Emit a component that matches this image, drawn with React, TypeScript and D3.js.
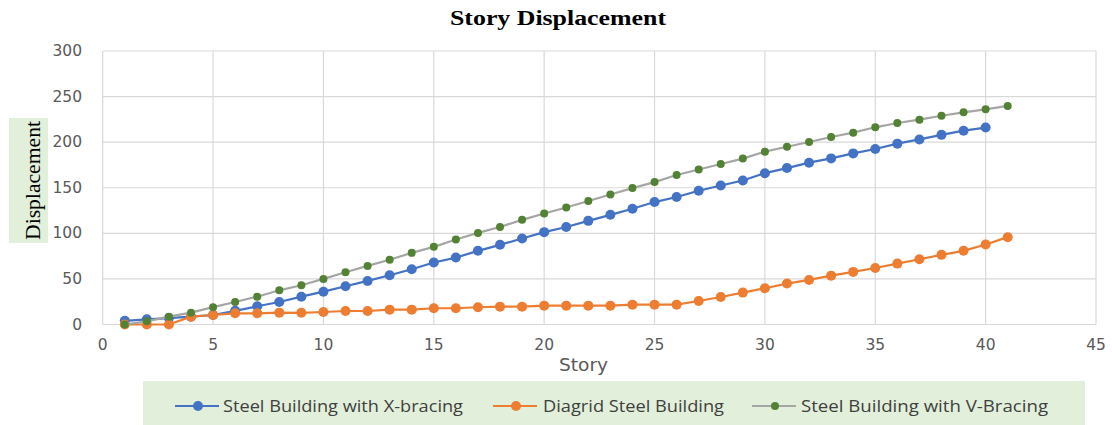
import React from "react";
import * as d3 from "d3";

const storiesX = d3.range(1, 41);
const storiesLong = d3.range(1, 42);

const xBracing = [4, 5.7, 7, 8.6, 10.4, 15, 20, 24.7, 30.5, 36, 42, 47.8, 54, 60.6, 68, 73.4, 80.8, 87.4, 94.3, 101.3,
  107, 113.7, 120.3, 127, 134.3, 139.8, 146.7, 152.5, 158, 166, 171.6, 177.5, 182.2, 187.7, 192.5, 198.4, 203, 208, 212.6, 216];

const diagrid = [0, 0, 0, 8.6, 10.4, 12.3, 12.3, 13, 12.8, 13.7, 14.8, 14.8, 16.3, 16.3, 17.8, 17.8, 18.9, 19.6, 19.6, 20.7,
  20.7, 20.7, 20.7, 21.8, 21.8, 21.8, 25.8, 30.2, 35, 39.8, 44.9, 48.9, 53.6, 57.7, 62, 66.8, 71.6, 76.4, 80.8, 87.7, 95.8];

const vBracing = [0, 3.5, 8.6, 13, 19, 24.7, 30.5, 37.5, 43, 50, 57.3, 64.3, 71, 78.6, 85.2, 93.2, 100.5, 107, 114.8, 121.8,
  128.4, 135.4, 142.6, 149.6, 156.2, 164, 170, 176, 182, 189.6, 195, 200.2, 205.7, 210.4, 216.3, 221, 224.7, 229, 232.7, 236, 239.8];

const xTicks = [0, 5, 10, 15, 20, 25, 30, 35, 40, 45];
const yTicks = [0, 50, 100, 150, 200, 250, 300];

const seriesNames = ["Steel Building with X-bracing", "Diagrid Steel Building", "Steel Building with V-Bracing"];

const W = 1112;
const H = 425;

export default function App() {
  const x = d3.scaleLinear().domain([0, 45]).range([102.7, 1096]);
  const y = d3.scaleLinear().domain([0, 300]).range([324.5, 51]);

  const series = [
    { name: seriesNames[0], xs: storiesX, ys: xBracing, line: "#4472C4", marker: "#4472C4", r: 5 },
    { name: seriesNames[1], xs: storiesLong, ys: diagrid, line: "#ED7D31", marker: "#ED7D31", r: 5 },
    { name: seriesNames[2], xs: storiesLong, ys: vBracing, line: "#A5A5A5", marker: "#548235", r: 4 },
  ];

  const lineGen = d3
    .line<[number, number]>()
    .x((d) => x(d[0]))
    .y((d) => y(d[1]));

  const legendItems = [
    { lx: 175, tx: 223, tl: 240 },
    { lx: 493, tx: 543, tl: 181 },
    { lx: 752, tx: 801, tl: 247 },
  ];

  return (
    <svg
      width={W}
      height={H}
      style={{ position: "absolute", left: 0, top: 0, background: "#fff" }}
    >
      <text
        x={450}
        y={25}
        textLength={216}
        lengthAdjust="spacingAndGlyphs"
        fontFamily="'Liberation Serif', 'Times New Roman', serif"
        fontWeight="bold"
        fontSize={20.5}
        fill="#000"
      >
        Story Displacement
      </text>

      {/* gridlines */}
      {yTicks.map((t) => (
        <line key={"gy" + t} x1={x(0)} x2={x(45)} y1={y(t)} y2={y(t)} stroke="#D9D9D9" strokeWidth={1.2} />
      ))}
      {xTicks.map((t) => (
        <line key={"gx" + t} x1={x(t)} x2={x(t)} y1={y(0)} y2={y(300)} stroke="#D9D9D9" strokeWidth={1.2} />
      ))}

      {/* tick labels */}
      {yTicks.map((t) => (
        <text
          key={"ty" + t}
          x={82}
          y={y(t) + 5}
          textAnchor="end"
          fontFamily="'DejaVu Sans', sans-serif"
          fontSize={15.5}
          fill="#595959"
        >
          {t}
        </text>
      ))}
      {xTicks.map((t) => (
        <text
          key={"tx" + t}
          x={x(t)}
          y={350}
          textAnchor="middle"
          fontFamily="'DejaVu Sans', sans-serif"
          fontSize={15.5}
          fill="#595959"
        >
          {t}
        </text>
      ))}

      <text
        x={559}
        y={371}
        textLength={49}
        lengthAdjust="spacingAndGlyphs"
        fontFamily="'DejaVu Sans', sans-serif"
        fontSize={17}
        fill="#595959"
      >
        Story
      </text>

      {/* y axis title */}
      <rect x={9} y={118} width={39} height={125} fill="#E2EFDA" />
      <text
        transform={`translate(40, 240) rotate(-90)`}
        textLength={119}
        lengthAdjust="spacingAndGlyphs"
        fontFamily="'Liberation Serif', 'Times New Roman', serif"
        fontSize={22}
        fill="#000"
      >
        Displacement
      </text>

      {/* series */}
      {series.map((s) => {
        const pts: [number, number][] = s.xs.map((v, i) => [v, s.ys[i]]);
        return (
          <g key={s.name}>
            <path d={lineGen(pts) || ""} fill="none" stroke={s.line} strokeWidth={2.2} />
            {pts.map((p, i) => (
              <circle key={i} cx={x(p[0])} cy={y(p[1])} r={s.r} fill={s.marker} />
            ))}
          </g>
        );
      })}

      {/* legend */}
      <rect x={143} y={381} width={942} height={44} fill="#E2EFDA" />
      {series.map((s, i) => (
        <g key={"lg" + i}>
          <line x1={legendItems[i].lx} x2={legendItems[i].lx + 44} y1={406} y2={406} stroke={s.line} strokeWidth={2.2} />
          <circle cx={legendItems[i].lx + 23} cy={406} r={s.r} fill={s.marker} />
          <text
            x={legendItems[i].tx}
            y={412}
            textLength={legendItems[i].tl}
            lengthAdjust="spacingAndGlyphs"
            fontFamily="'Open Sans', sans-serif"
            fontSize={16}
            fill="#404040"
          >
            {s.name}
          </text>
        </g>
      ))}
    </svg>
  );
}
